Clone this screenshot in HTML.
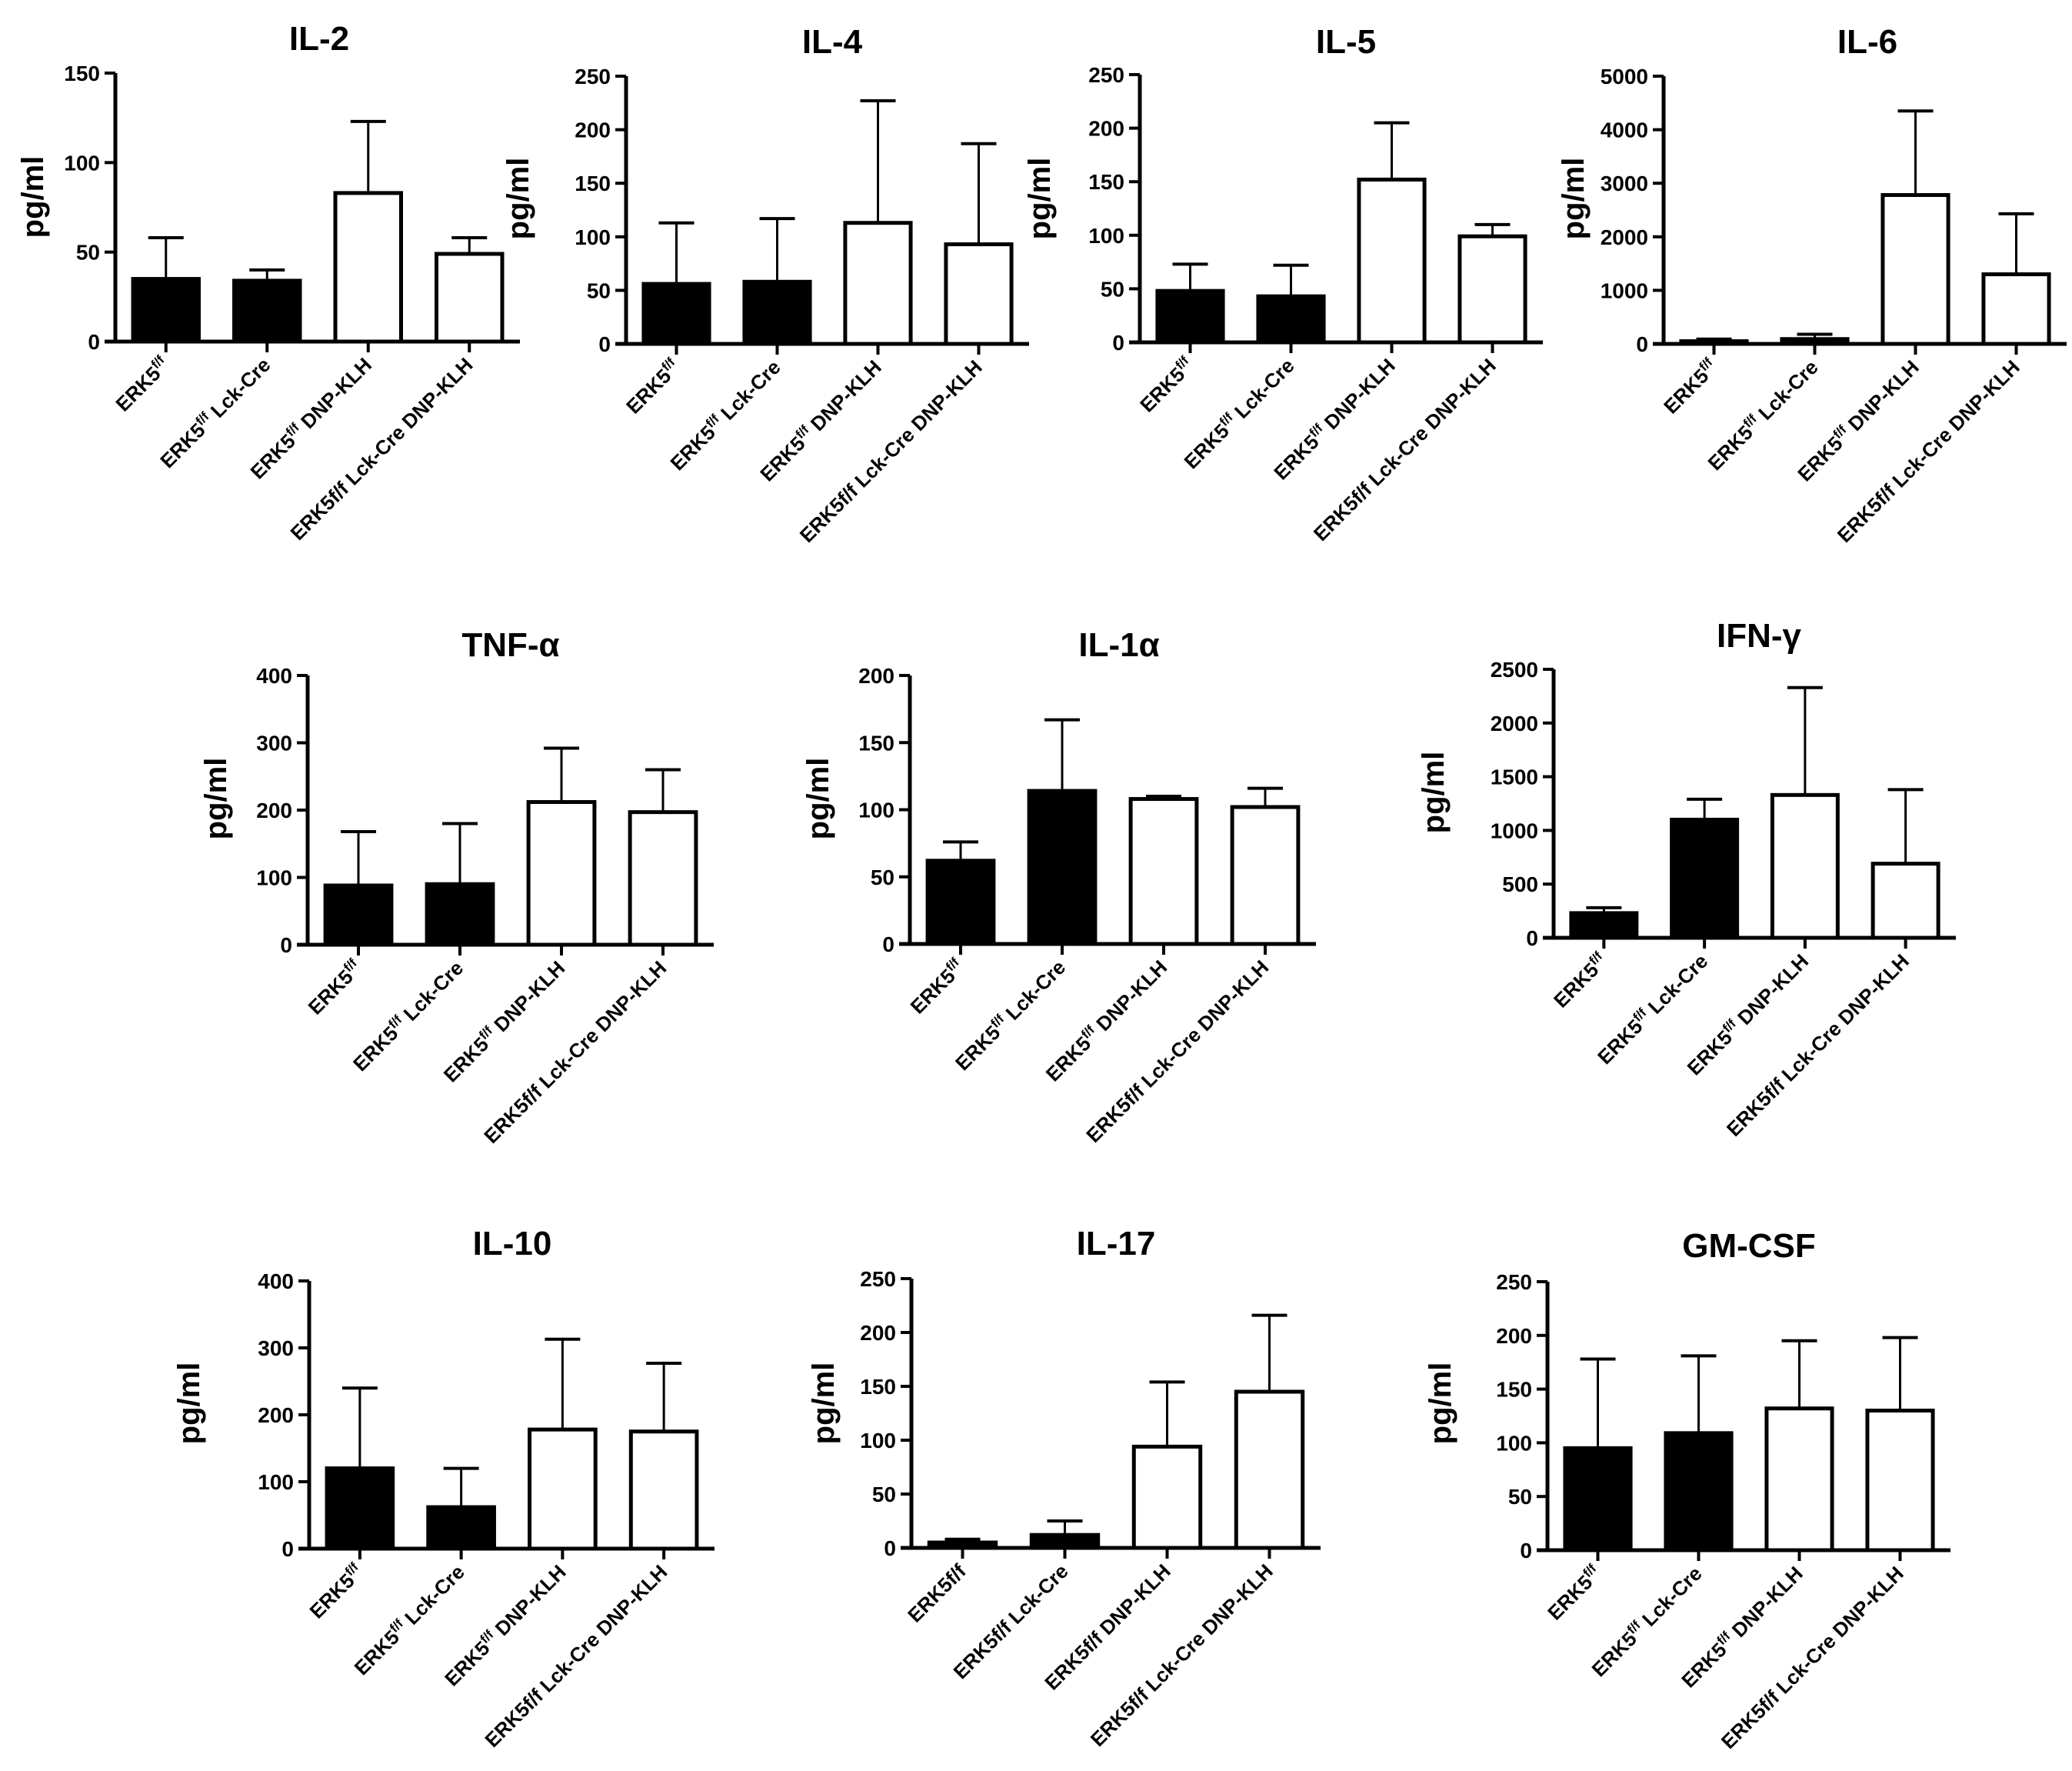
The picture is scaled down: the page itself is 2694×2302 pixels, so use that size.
<!DOCTYPE html>
<html><head><meta charset="utf-8"><style>
html,body{margin:0;padding:0;background:#fff;}
svg{display:block;}
text{font-family:"Liberation Sans",Arial,sans-serif;font-weight:bold;fill:#000;}
</style></head><body>
<svg id="fig" width="2694" height="2302" viewBox="0 0 2694 2302" xmlns="http://www.w3.org/2000/svg"></svg>
<script>
// ---- data ----
const categories = ["ERK5^f/f^", "ERK5^f/f^ Lck-Cre", "ERK5^f/f^ DNP-KLH", "ERK5f/f Lck-Cre DNP-KLH"];
const categoriesPlain = ["ERK5f/f", "ERK5f/f Lck-Cre", "ERK5f/f DNP-KLH", "ERK5f/f Lck-Cre DNP-KLH"];
const il2Means = [35, 34, 83, 49];      const il2Errs = [23, 6, 40, 9];      const il2Ticks = [0, 50, 100, 150];
const il4Means = [56, 58, 113, 93];     const il4Errs = [57, 59, 114, 94];   const il4Ticks = [0, 50, 100, 150, 200, 250];
const il5Means = [48, 43, 152, 99];     const il5Errs = [25, 29, 53, 11];    const il5Ticks = [0, 50, 100, 150, 200, 250];
const il6Means = [50, 90, 2780, 1300];  const il6Errs = [40, 90, 1570, 1130]; const il6Ticks = [0, 1000, 2000, 3000, 4000, 5000];
const tnfMeans = [88, 90, 212, 197];    const tnfErrs = [80, 90, 80, 63];    const tnfTicks = [0, 100, 200, 300, 400];
const il1aMeans = [62, 114, 108, 102];  const il1aErrs = [14, 53, 2, 14];    const il1aTicks = [0, 50, 100, 150, 200];
const ifnMeans = [230, 1100, 1330, 690]; const ifnErrs = [50, 190, 1000, 690]; const ifnTicks = [0, 500, 1000, 1500, 2000, 2500];
const il10Means = [120, 62, 178, 175];  const il10Errs = [120, 58, 135, 102]; const il10Ticks = [0, 100, 200, 300, 400];
const il17Means = [5, 12, 94, 145];     const il17Errs = [3, 13, 60, 71];    const il17Ticks = [0, 50, 100, 150, 200, 250];
const gmMeans = [95, 109, 132, 130];    const gmErrs = [83, 72, 63, 68];     const gmTicks = [0, 50, 100, 150, 200, 250];
const barFills = ["#000", "#000", "#fff", "#fff"];

// ---- layout ----
const panels = [
 {id:"il-2", title:"IL-2", means:il2Means, errs:il2Errs, ticks:il2Ticks, cats:categories, ax:150, w:526, top:95, base:444, tx:415, ty:65, lx:42, ly:256},
 {id:"il-4", title:"IL-4", means:il4Means, errs:il4Errs, ticks:il4Ticks, cats:categories, ax:814, w:524, top:99, base:447, tx:1082, ty:69, lx:673, ly:258},
 {id:"il-5", title:"IL-5", means:il5Means, errs:il5Errs, ticks:il5Ticks, cats:categories, ax:1482, w:524, top:97, base:445, tx:1750, ty:69, lx:1351, ly:258},
 {id:"il-6", title:"IL-6", means:il6Means, errs:il6Errs, ticks:il6Ticks, cats:categories, ax:2163, w:524, top:99, base:447, tx:2428, ty:69, lx:2045, ly:258},
 {id:"tnf-alpha", title:"TNF-α", means:tnfMeans, errs:tnfErrs, ticks:tnfTicks, cats:categories, ax:400, w:528, top:878, base:1228, tx:664, ty:853, lx:280, ly:1038},
 {id:"il-1alpha", title:"IL-1α", means:il1aMeans, errs:il1aErrs, ticks:il1aTicks, cats:categories, ax:1183, w:528, top:878, base:1227, tx:1455, ty:853, lx:1063, ly:1038},
 {id:"ifn-gamma", title:"IFN-γ", means:ifnMeans, errs:ifnErrs, ticks:ifnTicks, cats:categories, ax:2020, w:523, top:870, base:1219, tx:2287, ty:841, lx:1863, ly:1030},
 {id:"il-10", title:"IL-10", means:il10Means, errs:il10Errs, ticks:il10Ticks, cats:categories, ax:402, w:527, top:1665, base:2013, tx:666, ty:1631, lx:245, ly:1824},
 {id:"il-17", title:"IL-17", means:il17Means, errs:il17Errs, ticks:il17Ticks, cats:categoriesPlain, ax:1185, w:532, top:1662, base:2012, tx:1451, ty:1631, lx:1070, ly:1824},
 {id:"gm-csf", title:"GM-CSF", means:gmMeans, errs:gmErrs, ticks:gmTicks, cats:categories, ax:2012, w:524, top:1666, base:2015, tx:2274, ty:1634, lx:1872, ly:1824}
];
const NS = "http://www.w3.org/2000/svg";
const svg = document.getElementById("fig");
function mk(tag, attrs, parent){
  const e = document.createElementNS(NS, tag);
  for (const k in attrs) e.setAttribute(k, attrs[k]);
  parent.appendChild(e);
  return e;
}
panels.forEach(p => {
  const g = mk("g", {}, svg);
  
  
  const maxV = p.ticks[p.ticks.length - 1];
  const y = v => p.base - (v / maxV) * (p.base - p.top);
  const slot = p.w / p.means.length;
  const x = i => p.ax + (i + 0.5) * slot;
  const bw = slot * 0.65;

  const t = mk("text", {x:p.tx, y:p.ty, "text-anchor":"middle", "font-size":44}, g);
  t.textContent = p.title;
  
  

  const yl = mk("text", {transform:`translate(${p.lx+14},${p.ly}) rotate(-90)`, "text-anchor":"middle", "font-size":40}, g);
  yl.textContent = "pg/ml";
  
  

  // bars
  p.means.forEach((m, i) => {
    const cx = x(i);
    const yt = y(m + p.errs[i]);
    const el = mk("line", {x1:cx, x2:cx, y1:y(m), y2:yt, stroke:"#000", "stroke-width":3}, g);
    
    
    const cap = mk("line", {x1:cx-23, x2:cx+23, y1:yt, y2:yt, stroke:"#000", "stroke-width":4}, g);
    
    
    const r = mk("rect", {x:cx-bw/2, y:y(m), width:bw, height:p.base - y(m), fill:barFills[i], stroke:"#000", "stroke-width":5}, g);
    
    
  });

  // axes
  const ya = mk("line", {x1:p.ax, x2:p.ax, y1:p.top, y2:p.base, stroke:"#000", "stroke-width":5}, g);
  
  
  const xa = mk("line", {x1:p.ax - 14, x2:p.ax + p.w, y1:p.base, y2:p.base, stroke:"#000", "stroke-width":5}, g);
  
  

  p.ticks.forEach(tv => {
    const ty = y(tv);
    mk("line", {x1:p.ax - 14, x2:p.ax, y1:ty, y2:ty, stroke:"#000", "stroke-width":4}, g);
    const tl = mk("text", {x:p.ax - 20, y:ty + 10, "text-anchor":"end", "font-size":28}, g);
    tl.textContent = tv;
    
    
  });

  p.cats.forEach((c, i) => {
    const cx = x(i);
    mk("line", {x1:cx, x2:cx, y1:p.base, y2:p.base + 14, stroke:"#000", "stroke-width":4}, g);
    const lbl = mk("text", {transform:`translate(${cx+6},${p.base+32}) rotate(-45)`, "text-anchor":"end", "font-size":26}, g);
    
    
    const parts = c.split("^");
    parts.forEach((s, k) => {
      if (!s) return;
      const ts = mk("tspan", k === 1 ? {"font-size":17, dy:-10} : (k === 2 ? {dy:10} : {}), lbl);
      ts.textContent = s;
    });
  });
});
</script>
</body></html>
